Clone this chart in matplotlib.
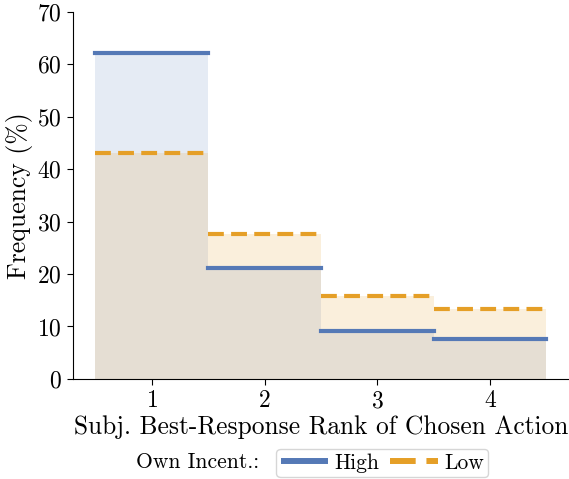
import numpy as np
import matplotlib
matplotlib.use("Agg")
import matplotlib.pyplot as plt

plt.rcParams['font.family'] = 'cmr10'
plt.rcParams['mathtext.fontset'] = 'cm'
plt.rcParams['axes.formatter.use_mathtext'] = True

# rank of chosen action and frequency (%) per own-incentive group
ranks = [1, 2, 3, 4]
freq_high = [62.2, 21.1, 9.1, 7.6]
freq_low = [43.1, 27.7, 15.8, 13.4]
yticks = [0, 10, 20, 30, 40, 50, 60, 70]

c_high = '#5579b6'
c_low = '#e59f27'

fig = plt.figure(figsize=(5.69, 4.79), dpi=100)
ax = fig.add_axes([0.128, 0.209, 0.872, 0.766])

x = np.array(ranks)
ax.bar(x, freq_high, width=1.0, color=c_high, alpha=0.15, linewidth=0)
ax.bar(x, freq_low, width=1.0, color=c_low, alpha=0.16, linewidth=0)
ax.hlines(freq_high, x - 0.5, x + 0.5, color=c_high, linewidth=3,
          capstyle='projecting', label='High')
ax.hlines(freq_low, x - 0.5, x + 0.5, color=c_low, linewidth=3,
          linestyles=(0, (3.8, 1.75)), label='Low')

ax.set_ylim(0, 70)
ax.set_yticks(yticks)
ax.set_xticks(ranks)
ax.tick_params(labelsize=17, length=4.5)
ax.set_ylabel('Frequency (%)', fontsize=18.5, labelpad=3)
ax.set_xlabel('Subj. Best-Response Rank of Chosen Action', fontsize=18.3, labelpad=2)
for s in ['top', 'right']:
    ax.spines[s].set_visible(False)

fig.text(0.347, 0.035, 'Own Incent.:', fontsize=15.5, ha='center', va='center')
leg = fig.legend(loc='center', bbox_to_anchor=(0.672, 0.033), ncol=2, fontsize=15.5,
                 handlelength=2.2, columnspacing=0.5, handletextpad=0.3,
                 borderpad=0.2, borderaxespad=0, frameon=True)
lines = leg.get_lines()
lines[0].set_linewidth(4.3)
lines[1].set_linewidth(4.3)
lines[1].set_linestyle((0, (4.3, 1.8)))

fig.savefig('out.png', dpi=100)
